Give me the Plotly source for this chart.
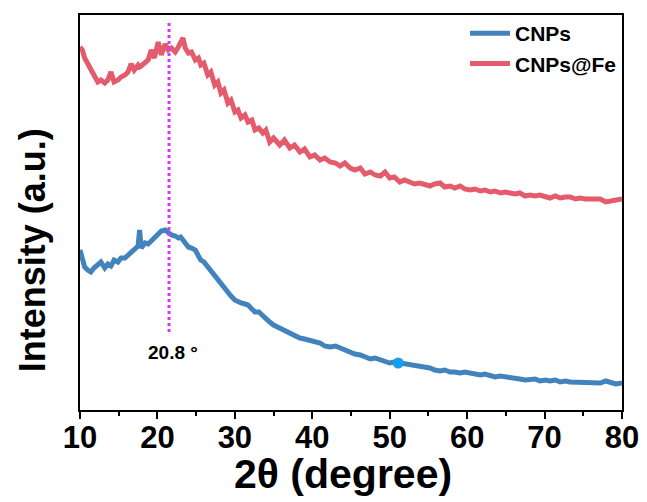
import plotly.graph_objects as go

two_theta = [
    10.0, 10.3, 10.6, 11.0, 11.4, 11.8, 12.3, 12.7, 13.2, 13.6,
    14.0, 14.4, 14.9, 15.3, 15.8, 16.2, 16.6, 17.0, 17.5, 17.7, 17.9,
    18.4, 18.8, 19.2, 19.6, 20.1, 20.5, 21.0, 21.4, 21.8, 22.3,
    22.7, 23.0, 23.3, 23.6, 24.0, 24.4, 24.9, 25.3, 25.6, 26.0,
    26.5, 26.9, 27.4, 27.8, 28.2, 28.6, 29.1, 29.5, 30.0, 30.4,
    30.8, 31.3, 31.7, 32.2, 32.6, 33.1, 33.6, 34.0, 34.5, 35.0,
    35.8, 36.4, 37.1, 37.7, 38.4, 39.0, 39.7, 40.3, 41.0, 41.6,
    42.3, 43.0, 43.6, 44.2, 44.9, 45.5, 46.2, 46.8, 47.5, 48.1,
    48.8, 49.4, 50.0, 50.6, 51.3, 51.9, 52.6, 53.2, 53.9, 54.5,
    55.2, 55.8, 56.5, 57.1, 57.8, 58.4, 59.1, 59.7, 60.4, 61.0,
    61.7, 62.3, 63.0, 63.6, 64.3, 64.9, 65.5, 66.2, 66.8, 67.5,
    68.1, 68.8, 69.4, 70.1, 70.7, 71.4, 72.0, 72.7, 73.3, 74.0,
    74.6, 75.3, 75.9, 76.6, 77.2, 77.9, 78.5, 79.2, 80.0,
]

cnps = [
    160, 150, 143, 140, 138, 142, 146, 148, 142, 146,
    144, 150, 148, 152, 152, 155, 157, 160, 164, 180, 162,
    167, 166, 169, 172, 175, 179, 180, 178, 175, 174,
    172, 173, 170, 167, 163, 162, 160, 154, 150, 148,
    143, 138, 133, 130, 127, 122, 117, 114, 110, 108,
    107, 106, 105, 101, 98, 98, 94, 92, 88, 85,
    82, 80, 77, 74, 72, 71, 70, 68, 67, 64,
    63, 64, 62, 60, 58, 56, 55, 53, 51, 52,
    50, 48, 47, 48, 47, 46, 45, 44, 44, 42,
    42, 40, 39, 40, 38, 38, 37, 38, 37, 36,
    35, 36, 35, 33, 34, 33, 33, 32, 31, 30,
    30, 31, 29, 30, 29, 30, 28, 29, 28, 28,
    27, 28, 28, 27, 27, 29, 28, 26, 27,
]

cnps_fe = [
    363, 360, 352, 347, 340, 335, 328, 330, 327, 330,
    338, 328, 330, 333, 335, 338, 346, 340, 345, 343, 344,
    348, 350, 360, 352, 368, 355, 366, 360, 362, 358,
    363, 368, 372, 362, 357, 358, 350, 352, 345, 347,
    335, 338, 325, 328, 317, 320, 307, 310, 298, 300,
    292, 295, 288, 290, 280, 282, 277, 280, 268, 272,
    265, 270, 262, 265, 258, 261, 253, 255, 250, 252,
    248, 247, 244, 247, 242, 240, 242, 236, 238, 235,
    234, 238, 232, 233, 228, 230, 228, 226, 227, 225,
    224, 226, 227, 223, 224, 222, 224, 221, 220, 221,
    219, 220, 218, 219, 217, 218, 217, 216, 217, 214,
    215, 214, 215, 213, 212, 214, 212, 213, 213, 211,
    212, 211, 211, 210, 211, 208, 209, 210, 211,
]

peak_position = 21.5
peak_label = "20.8 °"
peak_line_range = [78, 388]
marker_point_x = [51.1]
marker_point_y = [47]
x_ticks = [10, 20, 30, 40, 50, 60, 70, 80]

BLUE = "#4383bd"
RED = "#e45c6c"
MAGENTA = "#dd33ff"
SANS = "Liberation Sans, Arial, sans-serif"

fig = go.Figure()
fig.add_trace(go.Scatter(x=two_theta, y=cnps, mode="lines", name="CNPs",
                         line=dict(color=BLUE, width=5)))
fig.add_trace(go.Scatter(x=two_theta, y=cnps_fe, mode="lines", name="CNPs@Fe",
                         line=dict(color=RED, width=5)))
fig.add_trace(go.Scatter(x=[peak_position, peak_position], y=peak_line_range,
                         mode="lines", showlegend=False,
                         line=dict(color=MAGENTA, width=3, dash="dot")))
fig.add_trace(go.Scatter(x=marker_point_x, y=marker_point_y, mode="markers",
                         showlegend=False,
                         marker=dict(color="#14a0ee", size=11)))

fig.add_annotation(x=22.0, y=58, xref="x", yref="y", text=peak_label,
                   showarrow=False,
                   font=dict(family=SANS, size=19, color="black", weight="bold"))

fig.add_annotation(x=-0.088, y=0.405, xref="paper", yref="paper",
                   text="Intensity (a.u.)", textangle=-90, showarrow=False,
                   xanchor="center", yanchor="middle",
                   font=dict(family=SANS, size=36, color="black", weight="bold"))
fig.add_annotation(x=0.485, y=-0.162, xref="paper", yref="paper",
                   text="2θ (degree)", showarrow=False,
                   xanchor="center", yanchor="middle",
                   font=dict(family=SANS, size=41, color="black", weight="bold"))

fig.update_layout(
    width=639, height=494,
    margin=dict(l=72, r=25, t=7, b=92, autoexpand=False),
    paper_bgcolor="white", plot_bgcolor="white",
    showlegend=True,
    legend=dict(x=1.0, y=1.005, xanchor="right", yanchor="top",
                bgcolor="rgba(0,0,0,0)",
                font=dict(family=SANS, size=21, color="black", weight="bold"),
                tracegroupgap=0, itemwidth=40),
)
fig.update_xaxes(range=[10, 80], tickvals=x_ticks, automargin=False,
                 showline=True, linecolor="black", linewidth=1.5, mirror=True,
                 ticks="outside", ticklen=7, tickwidth=1.5, tickcolor="black",
                 ticklabelstandoff=-8,
                 minor=dict(ticks="outside", ticklen=4, tickwidth=1.5,
                            tickcolor="black", dtick=5),
                 showgrid=False, zeroline=False,
                 tickfont=dict(family=SANS, size=31, color="black", weight="bold"))
fig.update_yaxes(range=[0, 395], showticklabels=False, ticks="", automargin=False,
                 showline=True, linecolor="black", linewidth=1.5, mirror=True,
                 showgrid=False, zeroline=False)

fig.write_html("out.html")
